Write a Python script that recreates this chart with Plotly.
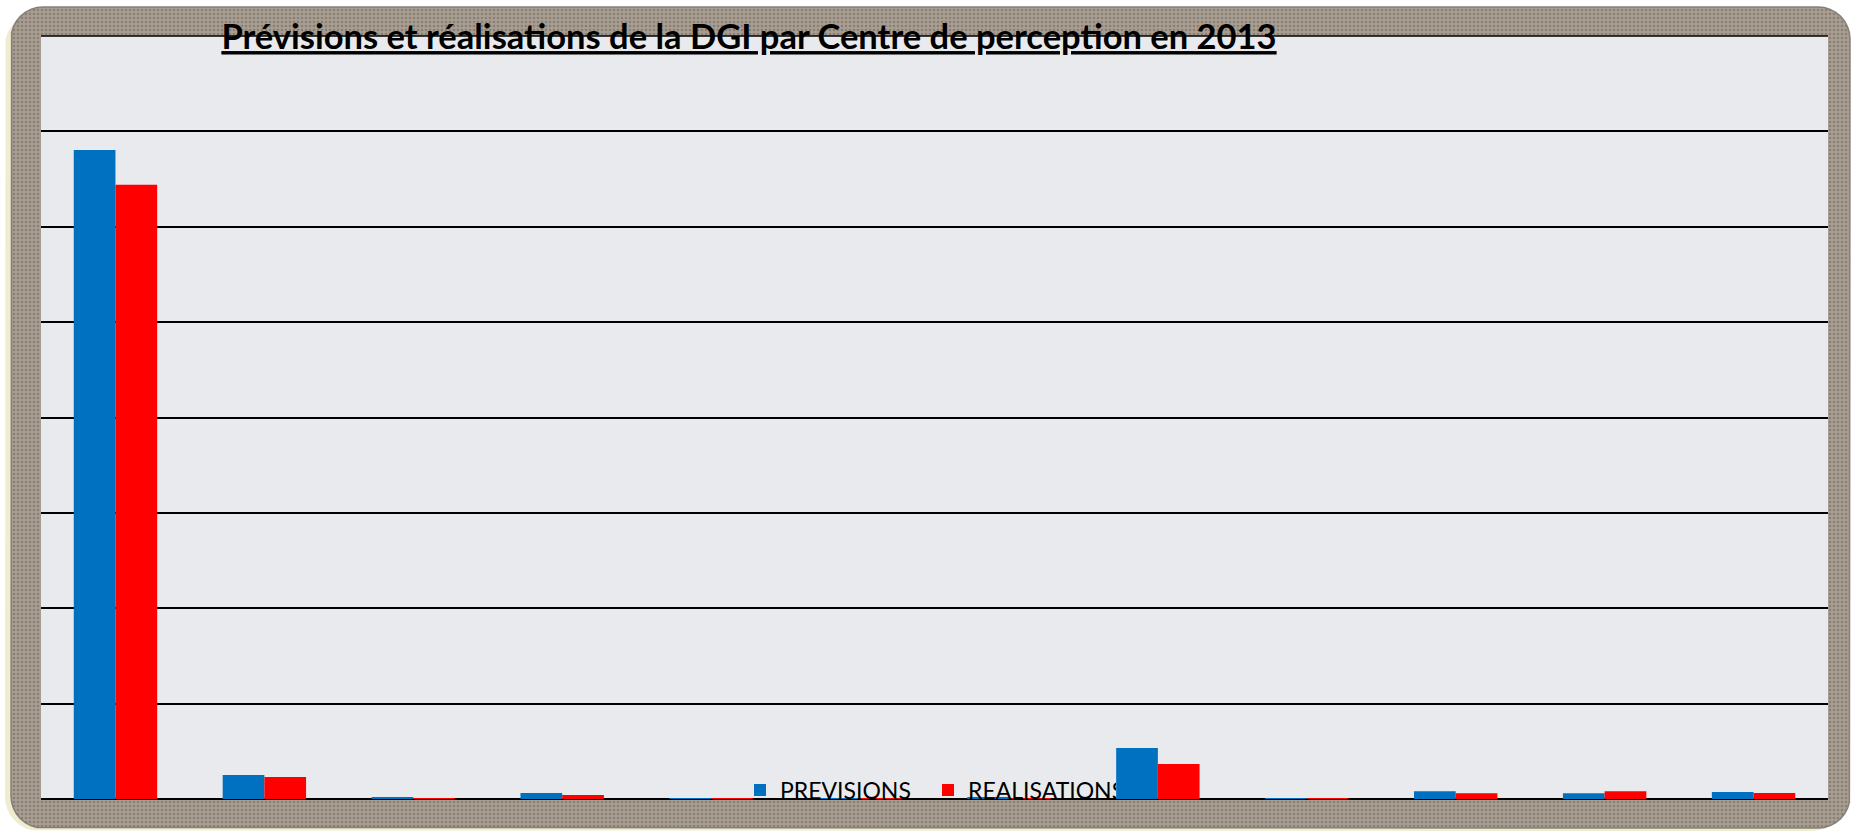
import plotly.graph_objects as go

# ---- data (units = arbitrary, gridline step = 50) ----
categories = ["Centre 1", "Centre 2", "Centre 3", "Centre 4", "Centre 5", "Centre 6",
              "Centre 7", "Centre 8", "Centre 9", "Centre 10", "Centre 11", "Centre 12"]
previsions = [340.3, 12.6, 0.6, 3.2, 0.5, 0.5, 0.6, 26.8, 0.5, 4.1, 3.0, 3.7]
realisations = [322.0, 11.5, 0.5, 2.1, 0.5, 0.4, 0.5, 18.4, 0.5, 3.0, 4.1, 3.2]
title_text = "Prévisions et réalisations de la DGI par Centre de perception en 2013"

W, H = 1854, 831
PL, PR, PT, PB = 41, 1828, 36, 799   # plot area in pixels


def rounded_xy(x0, y0, x1, y1, r, n=8):
    """Outline of a rounded rectangle (pixel space), for the decorative frame."""
    import math
    xs, ys = [], []
    corners = [(x1 - r, y0 + r, -90, 0), (x1 - r, y1 - r, 0, 90),
               (x0 + r, y1 - r, 90, 180), (x0 + r, y0 + r, 180, 270)]
    for cx, cy, a0, a1 in corners:
        for k in range(n + 1):
            a = math.radians(a0 + (a1 - a0) * k / n)
            xs.append(cx + r * math.cos(a))
            ys.append(cy + r * math.sin(a))
    xs.append(xs[0]); ys.append(ys[0])
    return xs, ys


fig = go.Figure()

# --- decoration on a full-page background subplot (x / y) ---
gx, gy = rounded_xy(5, 12, 1846, 831, 34)
fig.add_trace(go.Scatter(x=gx, y=gy, fill="toself", mode="lines", line=dict(width=0),
                         fillcolor="#efeccf", hoverinfo="skip", showlegend=False,
                         xaxis="x", yaxis="y"))
fx, fy = rounded_xy(11, 7, 1850, 828, 32)
fig.add_trace(go.Scatter(x=fx, y=fy, fill="toself", mode="lines",
                         line=dict(width=1.5, color="#858078"),
                         fillcolor="#a89e92",
                         fillpattern=dict(shape=".", size=4, solidity=0.35,
                                          fgcolor="#6a6057", fillmode="overlay"),
                         hoverinfo="skip", showlegend=False, xaxis="x", yaxis="y"))
fig.add_trace(go.Scatter(x=[PL, PR, PR, PL, PL], y=[PT, PT, PB, PB, PT], fill="toself",
                         mode="lines", line=dict(width=0), fillcolor="#e9eaed",
                         hoverinfo="skip", showlegend=False, xaxis="x", yaxis="y"))

# --- the chart itself (x2 / y2) ---
fig.add_trace(go.Bar(name="PREVISIONS", x=categories, y=previsions,
                     marker=dict(color="#0070C0", line=dict(width=0)),
                     xaxis="x2", yaxis="y2"))
fig.add_trace(go.Bar(name="REALISATIONS", x=categories, y=realisations,
                     marker=dict(color="#FF0000", line=dict(width=0)),
                     xaxis="x2", yaxis="y2"))

fig.update_layout(
    width=W, height=H,
    margin=dict(l=0, r=0, t=0, b=0),
    paper_bgcolor="white",
    plot_bgcolor="rgba(0,0,0,0)",
    barmode="group", bargap=0.44, bargroupgap=0,
    shapes=[dict(type="line", xref="x2 domain", yref="y2 domain", layer="above",
                 x0=0, x1=1, y0=1, y1=1, line=dict(color="black", width=1.6))],
    title=dict(text="<b><u>" + title_text + "</u></b>",
               x=749 / W, xanchor="center", xref="container",
               y=1 - 37 / H, yanchor="middle", yref="container",
               font=dict(family="Lato, Open Sans, sans-serif",
                         size=34.5, color="black")),
    legend=dict(orientation="h", x=740 / W, xanchor="left", y=1 - 790 / H, yanchor="middle",
                bgcolor="rgba(0,0,0,0)", borderwidth=0,
                font=dict(family="Lato, Open Sans, sans-serif",
                          size=23, color="black"),
                entrywidth=143, entrywidthmode="pixels", itemclick=False),
    xaxis=dict(domain=[0, 1], range=[0, W], visible=False, fixedrange=True),
    yaxis=dict(domain=[0, 1], range=[H, 0], visible=False, fixedrange=True),
    xaxis2=dict(domain=[PL / W, PR / W], anchor="y2", showticklabels=False, ticks="",
                showgrid=False, zeroline=False, showline=False),
    yaxis2=dict(domain=[1 - PB / H, 1 - PT / H], anchor="x2",
                range=[0, 400], dtick=50, showticklabels=False, ticks="",
                showgrid=True, gridcolor="black", gridwidth=1.6,
                zeroline=True, zerolinecolor="black", zerolinewidth=2, showline=False),
    showlegend=True,
)

fig.write_html("out.html", config={"displayModeBar": False},
               post_script="document.body.style.margin='0';document.body.style.overflow='hidden';")
